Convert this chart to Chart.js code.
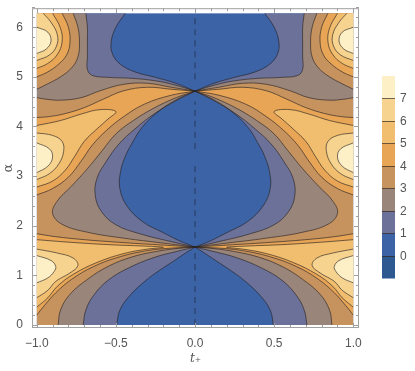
<!DOCTYPE html>
<html>
<head>
<meta charset="utf-8">
<script src="https://cdn.jsdelivr.net/npm/chart.js@4.4.1/dist/chart.umd.min.js"></script>
<style>
  html, body { margin: 0; padding: 0; background: #fff; }
  #wrap { width: 415px; height: 371px; }
</style>
</head>
<body>
<div id="wrap"><canvas id="chart" width="415" height="371"></canvas></div>
<script>
// axis ticks
const xTicks = [-1, -0.5, 0, 0.5, 1];
const yTicks = [0, 1, 2, 3, 4, 5, 6];
const levels = [0, 1, 2, 3, 4, 5, 6, 7];
// band colours, from "below 0" up to "above 7"
const bandColors = ['#2d5990', '#3b63a6', '#6b7198', '#9a857a', '#c6935f', '#e8a556', '#f1bd6e', '#f7d390', '#fdf0c6'];

// contour lines, left half (t <= 0), as [t, alpha].
// a branch is split into pieces at the two pinch points (0, pi/2) and (0, 3pi/2)
const level1 = [
  [
    [[-0.495, 0], [-0.475, 0.3], [-0.41, 0.6], [-0.31, 0.9], [-0.225, 1.1], [-0.13, 1.3], [-0.06, 1.45], [0, 1.571]],
    [[0, 1.571], [-0.1, 1.7], [-0.2, 1.86], [-0.33, 2.08], [-0.43, 2.4], [-0.475, 2.75], [-0.47, 3.1], [-0.44, 3.4], [-0.4, 3.65], [-0.33, 4.0], [-0.22, 4.33], [-0.1, 4.57], [0, 4.712]],
    [[0, 4.712], [-0.12, 4.87], [-0.25, 4.99], [-0.38, 5.1], [-0.47, 5.25], [-0.52, 5.45], [-0.53, 5.7], [-0.5, 6.0], [-0.44, 6.283]]
  ]
];
const level2 = [
  [
    [[-0.707, 0], [-0.69, 0.3], [-0.64, 0.6], [-0.55, 0.9], [-0.42, 1.15], [-0.26, 1.36], [-0.12, 1.48], [0, 1.571]],
    [[0, 1.571], [-0.15, 1.68], [-0.35, 1.84], [-0.5, 2.02], [-0.59, 2.28], [-0.63, 2.6], [-0.62, 2.95], [-0.56, 3.3], [-0.48, 3.65], [-0.38, 3.95], [-0.26, 4.25], [-0.12, 4.52], [0, 4.712]],
    [[0, 4.712], [-0.12, 4.83], [-0.25, 4.92], [-0.4, 4.97], [-0.55, 4.99], [-0.65, 5.03], [-0.68, 5.15], [-0.68, 5.4], [-0.68, 5.7], [-0.68, 6.0], [-0.69, 6.283]]
  ]
];
const level3 = [
  [
    [[-0.865, 0], [-0.85, 0.3], [-0.79, 0.62], [-0.68, 0.92], [-0.55, 1.18], [-0.4, 1.37], [-0.25, 1.48], [-0.12, 1.54], [0, 1.571]],
    [[0, 1.571], [-0.2, 1.65], [-0.45, 1.75], [-0.68, 1.87], [-0.84, 2.03], [-0.9, 2.25], [-0.87, 2.5], [-0.78, 2.8], [-0.68, 3.15], [-0.59, 3.5], [-0.5, 3.85], [-0.39, 4.12], [-0.26, 4.37], [-0.12, 4.58], [0, 4.712]],
    [[0, 4.712], [-0.15, 4.79], [-0.3, 4.87], [-0.45, 4.85], [-0.6, 4.72], [-0.72, 4.58], [-0.85, 4.53], [-0.94, 4.55], [-1, 4.58]]
  ],
  [
    [[-1, 4.75], [-0.93, 4.86], [-0.85, 5.0], [-0.78, 5.18], [-0.74, 5.4], [-0.73, 5.7], [-0.74, 6.0], [-0.77, 6.283]]
  ]
];
const level4 = [
  [
    [[-1, 0.2], [-0.95, 0.4], [-0.88, 0.65], [-0.78, 0.92], [-0.64, 1.18], [-0.47, 1.38], [-0.3, 1.5], [-0.15, 1.55], [0, 1.571]],
    [[0, 1.571], [-0.2, 1.61], [-0.45, 1.66], [-0.7, 1.72], [-0.88, 1.78], [-1, 1.84]]
  ],
  [
    [[-1, 2.62], [-0.9, 2.75], [-0.8, 2.98], [-0.72, 3.3], [-0.65, 3.62], [-0.56, 3.92], [-0.45, 4.2], [-0.32, 4.45], [-0.15, 4.63], [0, 4.712]],
    [[0, 4.712], [-0.15, 4.75], [-0.3, 4.79], [-0.45, 4.72], [-0.58, 4.55], [-0.7, 4.38], [-0.82, 4.26], [-0.92, 4.2], [-1, 4.18]]
  ],
  [
    [[-1, 5.0], [-0.93, 5.1], [-0.86, 5.26], [-0.81, 5.45], [-0.79, 5.7], [-0.8, 6.0], [-0.84, 6.283]]
  ]
];
const level5 = [
  [[[-1, 0.36], [-0.93, 0.55], [-0.87, 0.78], [-0.77, 1.02], [-0.62, 1.26], [-0.45, 1.44], [-0.3, 1.53], [-0.2, 1.565], [-0.32, 1.59], [-0.55, 1.62], [-0.8, 1.67], [-1, 1.72]]],
  [[[-1, 2.78], [-0.9, 2.9], [-0.82, 3.12], [-0.76, 3.4], [-0.7, 3.7], [-0.62, 3.95], [-0.55, 4.15], [-0.5, 4.3], [-0.6, 4.34], [-0.72, 4.25], [-0.85, 4.12], [-1, 4.02]]],
  [[[-1, 5.17], [-0.93, 5.27], [-0.87, 5.45], [-0.84, 5.7], [-0.85, 5.98], [-0.9, 6.283]]]
];
const level6 = [
  [[[-1, 0.55], [-0.93, 0.7], [-0.88, 0.88], [-0.79, 1.05], [-0.74, 1.2], [-0.77, 1.35], [-0.87, 1.45], [-1, 1.53]]],
  [[[-1, 2.93], [-0.92, 3.05], [-0.86, 3.25], [-0.83, 3.5], [-0.84, 3.7], [-0.9, 3.82], [-1, 3.87]]],
  [[[-1, 5.33], [-0.92, 5.44], [-0.875, 5.62], [-0.87, 5.85], [-0.91, 6.1], [-0.96, 6.283]]]
];
const level7 = [
  [[[-1, 0.85], [-0.93, 0.95], [-0.89, 1.08], [-0.88, 1.18], [-0.91, 1.3], [-1, 1.4]]],
  [[[-1, 3.07], [-0.93, 3.2], [-0.9, 3.38], [-0.92, 3.55], [-1, 3.67]]],
  [[[-1, 5.47], [-0.94, 5.56], [-0.91, 5.72], [-0.93, 5.9], [-1, 6.0]]]
];
// the level 0 line shows as dashes along t = 0 (alpha ranges)
const zeroDashes = [[0, 1.5], [1.75, 3.3], [3.55, 4.5], [4.95, 6.25]];

const contourLevels = [level1, level2, level3, level4, level5, level6, level7];
const TWO_PI = 6.2832;
const lineColor = 'rgba(40, 35, 35, 0.75)';
const inset = {left: -4.5, right: -5.5, top: -5, bottom: -3};

// datasets: every piece on the left half and its mirror image on the right half
const datasets = [];
const regions = [];
contourLevels.forEach((branches, i) => {
  [1, -1].forEach(side => {
    branches.forEach(branch => {
      const idx = [];
      branch.forEach(piece => {
        idx.push(datasets.length);
        datasets.push({
          data: piece.map(([t, a]) => ({x: t * side, y: a})),
          borderColor: lineColor,
          borderWidth: 0.85,
          pointRadius: 0,
          tension: 0.4,
          fill: false,
          clip: inset
        });
      });
      regions.push({level: levels[i + 1], side, idx, first: branch[0][0], last: branch[branch.length - 1].slice(-1)[0]});
    });
  });
});
zeroDashes.forEach(([a0, a1]) => {
  datasets.push({
    data: [{x: 0, y: a0}, {x: 0, y: a1}],
    borderColor: 'rgba(30, 38, 60, 0.7)',
    borderWidth: 1,
    borderDash: [6, 5],
    pointRadius: 0,
    fill: false,
    clip: inset
  });
});

// position along the outer edge of one half: bottom -> outer side -> top
function edgePos([t, a]) {
  if (a <= 0.001) return -t;
  if (a >= TWO_PI - 0.001) return 3 + t;
  return 1 + a / TWO_PI;
}
// corners passed when walking the outer edge from the branch end back to its start
function closingCorners(r) {
  const s0 = edgePos(r.first), s1 = edgePos(r.last);
  const corners = [[1, [-1, 0]], [2, [-1, TWO_PI]]].filter(([s]) => s > Math.min(s0, s1) && s < Math.max(s0, s1));
  if (s1 > s0) corners.reverse();
  return corners.map(([, p]) => p);
}

const contourFill = {
  id: 'contourFill',
  beforeDatasetsDraw(chart) {
    const {ctx, scales: {x, y}} = chart;
    const L = x.getPixelForValue(-1), R = x.getPixelForValue(1);
    const T = y.getPixelForValue(TWO_PI), B = y.getPixelForValue(0);
    ctx.save();
    ctx.beginPath();
    ctx.rect(L, T, R - L, B - T);
    ctx.clip();
    ctx.fillStyle = bandColors[1];
    ctx.fillRect(L, T, R - L, B - T);
    levels.slice(1).forEach(level => {
      ctx.beginPath();
      regions.filter(r => r.level === level).forEach(r => {
        r.idx.forEach((di, j) => {
          const meta = chart.getDatasetMeta(di);
          const line = meta.dataset;
          line.updateControlPoints(chart.chartArea, 'x');
          if (j === 0) ctx.moveTo(meta.data[0].x, meta.data[0].y);
          line.segments.forEach(seg => line.pathSegment(ctx, seg, {move: false}));
        });
        closingCorners(r).forEach(([t, a]) => ctx.lineTo(x.getPixelForValue(t * r.side), y.getPixelForValue(a)));
        ctx.closePath();
      });
      ctx.fillStyle = bandColors[level + 1];
      ctx.fill('evenodd');
    });
    ctx.restore();
  }
};

// Mathematica-like frame with inward ticks on all four sides
const frame = {
  id: 'frame',
  afterDatasetsDraw(chart) {
    const {ctx, chartArea: ca, scales: {x, y}} = chart;
    ctx.save();
    ctx.strokeStyle = '#a0a0a0';
    ctx.lineWidth = 1;
    ctx.strokeRect(ca.left + 0.5, ca.top + 0.5, ca.right - ca.left - 1, ca.bottom - ca.top - 1);
    ctx.beginPath();
    for (let i = -10; i <= 10; i++) {
      const px = Math.round(x.getPixelForValue(i / 10)) + 0.5;
      const len = i % 5 === 0 ? 5 : 3;
      ctx.moveTo(px, ca.bottom); ctx.lineTo(px, ca.bottom - len);
      ctx.moveTo(px, ca.top); ctx.lineTo(px, ca.top + len);
    }
    for (let i = 0; i <= 32; i++) {
      const py = Math.round(y.getPixelForValue(i / 5)) + 0.5;
      const len = i % 5 === 0 ? 5 : 3;
      ctx.moveTo(ca.left, py); ctx.lineTo(ca.left + len, py);
      ctx.moveTo(ca.right, py); ctx.lineTo(ca.right - len, py);
    }
    ctx.stroke();
    ctx.restore();
  },
  afterDraw(chart) {
    // colour bar
    const {ctx} = chart;
    const x0 = 382, w = 13, top = 76, bottom = 278;
    const h = (bottom - top) / bandColors.length;
    ctx.save();
    bandColors.forEach((c, i) => {
      ctx.fillStyle = c;
      ctx.fillRect(x0, bottom - (i + 1) * h, w, h + 0.5);
    });
    ctx.strokeStyle = 'rgba(50, 40, 30, 0.7)';
    ctx.fillStyle = '#555';
    ctx.font = '12px "Liberation Sans", Arial, sans-serif';
    ctx.textBaseline = 'middle';
    levels.forEach((lv, i) => {
      const py = Math.round(bottom - (i + 1) * h) + 0.5;
      ctx.beginPath();
      ctx.moveTo(x0, py); ctx.lineTo(x0 + w, py);
      ctx.stroke();
      ctx.fillText(String(lv), x0 + 18, py);
    });
    ctx.restore();
  }
};

const fmt = v => (v < 0 ? '\u2212' : '') + Math.abs(v).toFixed(1);

new Chart(document.getElementById('chart'), {
  type: 'line',
  data: {datasets},
  options: {
    responsive: false,
    animation: false,
    events: [],
    layout: {padding: {top: 3, right: 56, bottom: 0, left: 0}},
    plugins: {legend: {display: false}, tooltip: {enabled: false}},
    scales: {
      x: {
        type: 'linear',
        min: -1.03,
        max: 1.036,
        afterBuildTicks: axis => { axis.ticks = xTicks.map(v => ({value: v})); },
        afterFit: axis => { axis.height = 43; },
        grid: {display: false},
        border: {display: false},
        ticks: {
          color: '#555',
          padding: 0,
          maxRotation: 0,
          font: {family: '"Liberation Sans", Arial, sans-serif', size: 12},
          callback: v => fmt(v)
        },
        title: {
          display: true,
          text: 't\u208A',
          color: '#555',
          padding: {top: 0, bottom: 5},
          font: {family: '"DejaVu Serif", serif', size: 12, style: 'italic'}
        }
      },
      y: {
        type: 'linear',
        min: -0.0595,
        max: 6.383,
        afterBuildTicks: axis => { axis.ticks = yTicks.map(v => ({value: v})); },
        afterFit: axis => { axis.width = 32; },
        grid: {display: false},
        border: {display: false},
        ticks: {
          color: '#555',
          padding: 1,
          font: {family: '"Liberation Sans", Arial, sans-serif', size: 12},
          callback: v => String(v)
        },
        title: {
          display: true,
          text: '\u03B1',
          color: '#555',
          padding: {top: 1, bottom: 0},
          font: {family: '"DejaVu Serif", serif', size: 13}
        }
      }
    }
  },
  plugins: [contourFill, frame]
});
</script>
</body>
</html>
